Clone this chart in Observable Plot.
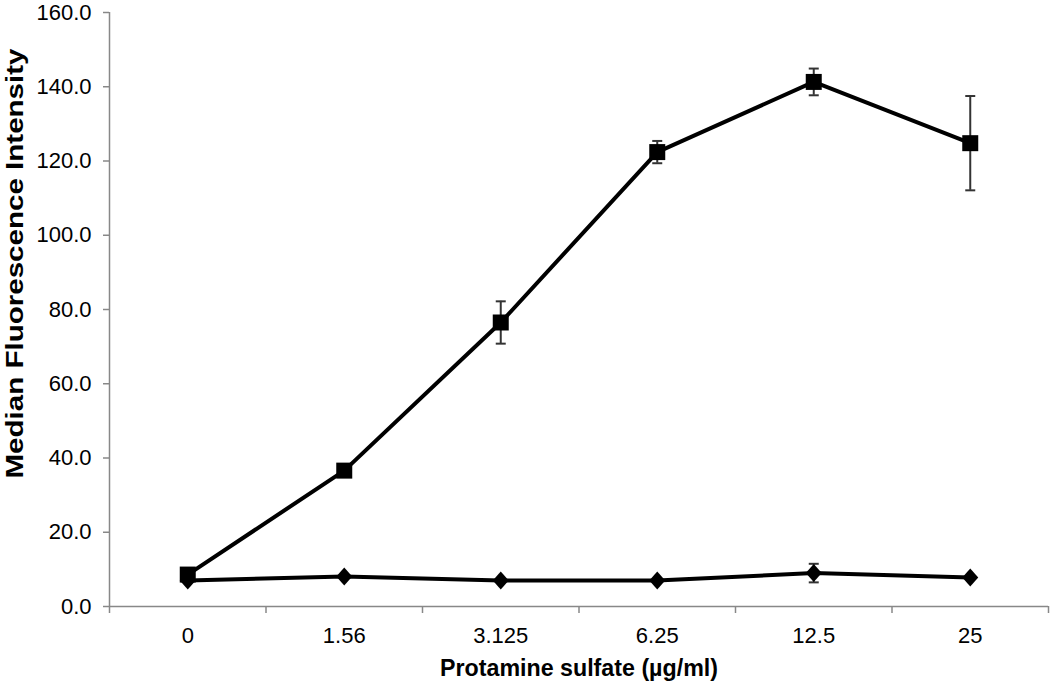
<!DOCTYPE html>
<html><head><meta charset="utf-8">
<script src="https://cdn.jsdelivr.net/npm/d3@7"></script>
<script src="https://cdn.jsdelivr.net/npm/@observablehq/plot@0.6"></script>
<style>body{margin:0;background:#fff} svg{display:block}</style>
</head><body><div id="chart"></div>
<script>
const categories = ["0", "1.56", "3.125", "6.25", "12.5", "25"];
const squareMean = [8.6, 36.6, 76.5, 122.4, 141.3, 124.8];
const squareErr = [0.4, 0.6, 5.7, 3.0, 3.6, 12.7];
const diamondMean = [7.0, 8.1, 7.0, 7.0, 9.0, 7.8];
const diamondErr = [0.3, 0.3, 0.3, 0.3, 2.5, 0.3];
const yTicks = [0, 20, 40, 60, 80, 100, 120, 140, 160];
const xTitle = "Protamine sulfate (µg/ml)";
const yTitle = "Median Fluorescence Intensity";

const idx = categories.map((c, i) => i);
const squares = idx.map(i => ({i, y: squareMean[i], lo: squareMean[i] - squareErr[i], hi: squareMean[i] + squareErr[i]}));
const diamonds = idx.map(i => ({i, y: diamondMean[i], lo: diamondMean[i] - diamondErr[i], hi: diamondMean[i] + diamondErr[i]}));
const x0 = -0.5, x1 = categories.length - 0.5;

const capSymbol = {draw(ctx) { ctx.moveTo(-5, 0); ctx.lineTo(5, 0); }};
const diamondSymbol = {draw(ctx) { ctx.moveTo(0, -9); ctx.lineTo(8, 0); ctx.lineTo(0, 9); ctx.lineTo(-8, 0); ctx.closePath(); }};
const squareSymbol = {draw(ctx) { ctx.rect(-8, -8, 16, 16); }};
const font = "'Liberation Sans', Arial, sans-serif";

function errorMarks(data) {
  return [
    Plot.ruleX(data, {x: "i", y1: "lo", y2: "hi", stroke: "#333", strokeWidth: 2}),
    Plot.dot(data, {x: "i", y: "lo", symbol: capSymbol, stroke: "#333", strokeWidth: 2, r: 5}),
    Plot.dot(data, {x: "i", y: "hi", symbol: capSymbol, stroke: "#333", strokeWidth: 2, r: 5})
  ];
}

const chart = Plot.plot({
  width: 1050,
  height: 683,
  marginLeft: 109,
  marginRight: 2,
  marginTop: 12,
  marginBottom: 77,
  style: {fontFamily: font, background: "#fff", color: "#000"},
  x: {domain: [x0, x1]},
  y: {domain: [0, 160]},
  marks: [
    Plot.axisX({ticks: d3.range(x0, x1 + 0.01, 1), tickFormat: () => "", tickSize: 7, stroke: "#888", strokeWidth: 1.5, label: null}),
    Plot.axisX({ticks: idx, tickFormat: i => categories[i], tickSize: 0, tickPadding: 21, fontSize: 22, fill: "#000", label: null}),
    Plot.axisY({ticks: yTicks, tickFormat: d => d.toFixed(1), tickSize: 6, tickPadding: 12, stroke: "#888", strokeWidth: 1.5, fontSize: 22, fill: "#000", label: null}),
    Plot.ruleX([x0], {stroke: "#888", strokeWidth: 1.5}),
    Plot.ruleY([0], {stroke: "#888", strokeWidth: 1.5}),
    ...errorMarks(squares),
    ...errorMarks(diamonds),
    Plot.line(squares, {x: "i", y: "y", stroke: "#000", strokeWidth: 4}),
    Plot.line(diamonds, {x: "i", y: "y", stroke: "#000", strokeWidth: 4}),
    Plot.dot(squares, {x: "i", y: "y", symbol: squareSymbol, fill: "#000", stroke: "none"}),
    Plot.dot(diamonds, {x: "i", y: "y", symbol: diamondSymbol, fill: "#000", stroke: "none"}),
    Plot.text([yTitle], {frameAnchor: "left", rotate: -90, dx: -94, dy: -46, textAnchor: "middle", lineAnchor: "middle", fontWeight: "bold", fontSize: 24, fill: "#000", className: "ytitle"}),
    Plot.text([xTitle], {frameAnchor: "bottom", dy: 62, textAnchor: "middle", lineAnchor: "middle", fontWeight: "bold", fontSize: 24, fill: "#000", className: "xtitle"})
  ]
});
d3.select(chart).selectAll(".ytitle text").attr("textLength", 430).attr("lengthAdjust", "spacingAndGlyphs");
d3.select(chart).selectAll(".xtitle text").attr("textLength", 278).attr("lengthAdjust", "spacingAndGlyphs");
document.getElementById("chart").append(chart);
</script>
</body></html>
